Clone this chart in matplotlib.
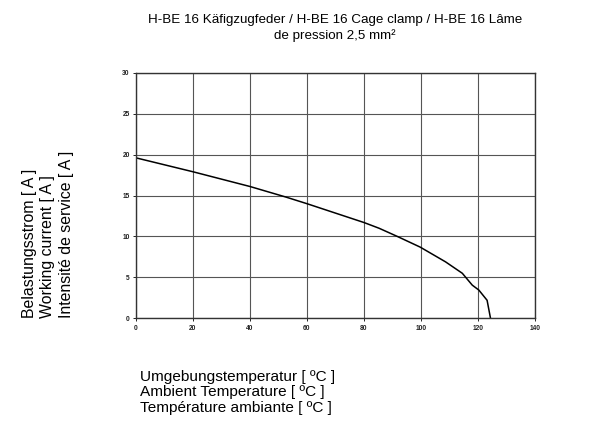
import matplotlib
matplotlib.use("Agg")
import matplotlib.pyplot as plt

# Werte
temperatur = [0, 20, 40, 52.7, 60, 80, 85.3, 91.7, 99.7, 108.6, 114.5, 118, 120.3, 123.2, 124.4]
strom = [19.6, 17.9, 16.1, 14.8, 14.0, 11.7, 11.0, 10.0, 8.7, 6.9, 5.5, 4.05, 3.45, 2.2, 0]

x_ticks = [0, 20, 40, 60, 80, 100, 120, 140]
y_ticks = [0, 5, 10, 15, 20, 25, 30]

titel = "H-BE 16 Käfigzugfeder / H-BE 16 Cage clamp / H-BE 16 Lâme\nde pression 2,5 mm²"
y_text = "Belastungsstrom [ A ]\nWorking current [ A ]\nIntensité de service [ A ]"
x_text = "Umgebungstemperatur [ ºC ]\nAmbient Temperature [ ºC ]\nTempérature ambiante [ ºC ]"

plt.rcParams['font.family'] = ['Liberation Sans', 'DejaVu Sans']

fig = plt.figure(figsize=(5.98, 4.24), dpi=100)
ax = fig.add_axes([0.2274, 0.2493, 0.6672, 0.5792])

ax.plot(temperatur, strom, color='black', lw=1.1)
ax.set_xlim(0, 140)
ax.set_ylim(0, 30)
ax.set_xticks(x_ticks)
ax.set_yticks(y_ticks)
ax.grid(True, color='#555555', lw=0.8)
ax.set_axisbelow(True)
for s in ax.spines.values():
        s.set_color('#333333')
        s.set_linewidth(1.0)
ax.tick_params(labelsize=4.8, length=2.5, width=0.7, pad=2, colors='#222222')
for lab in ax.get_xticklabels() + ax.get_yticklabels():
        lab.set_fontweight('bold')

fig.text(0.56, 0.968, titel, ha='center', va='top', fontsize=9.6, linespacing=1.35)
fig.text(0.036, 0.25, y_text, rotation=90, ha='left', va='bottom', fontsize=11.4,
         linespacing=1.33, multialignment='left')
fig.text(0.234, 0.127, x_text, ha='left', va='top', fontsize=11.1, linespacing=1.12)

fig.savefig("out.png", dpi=100)
